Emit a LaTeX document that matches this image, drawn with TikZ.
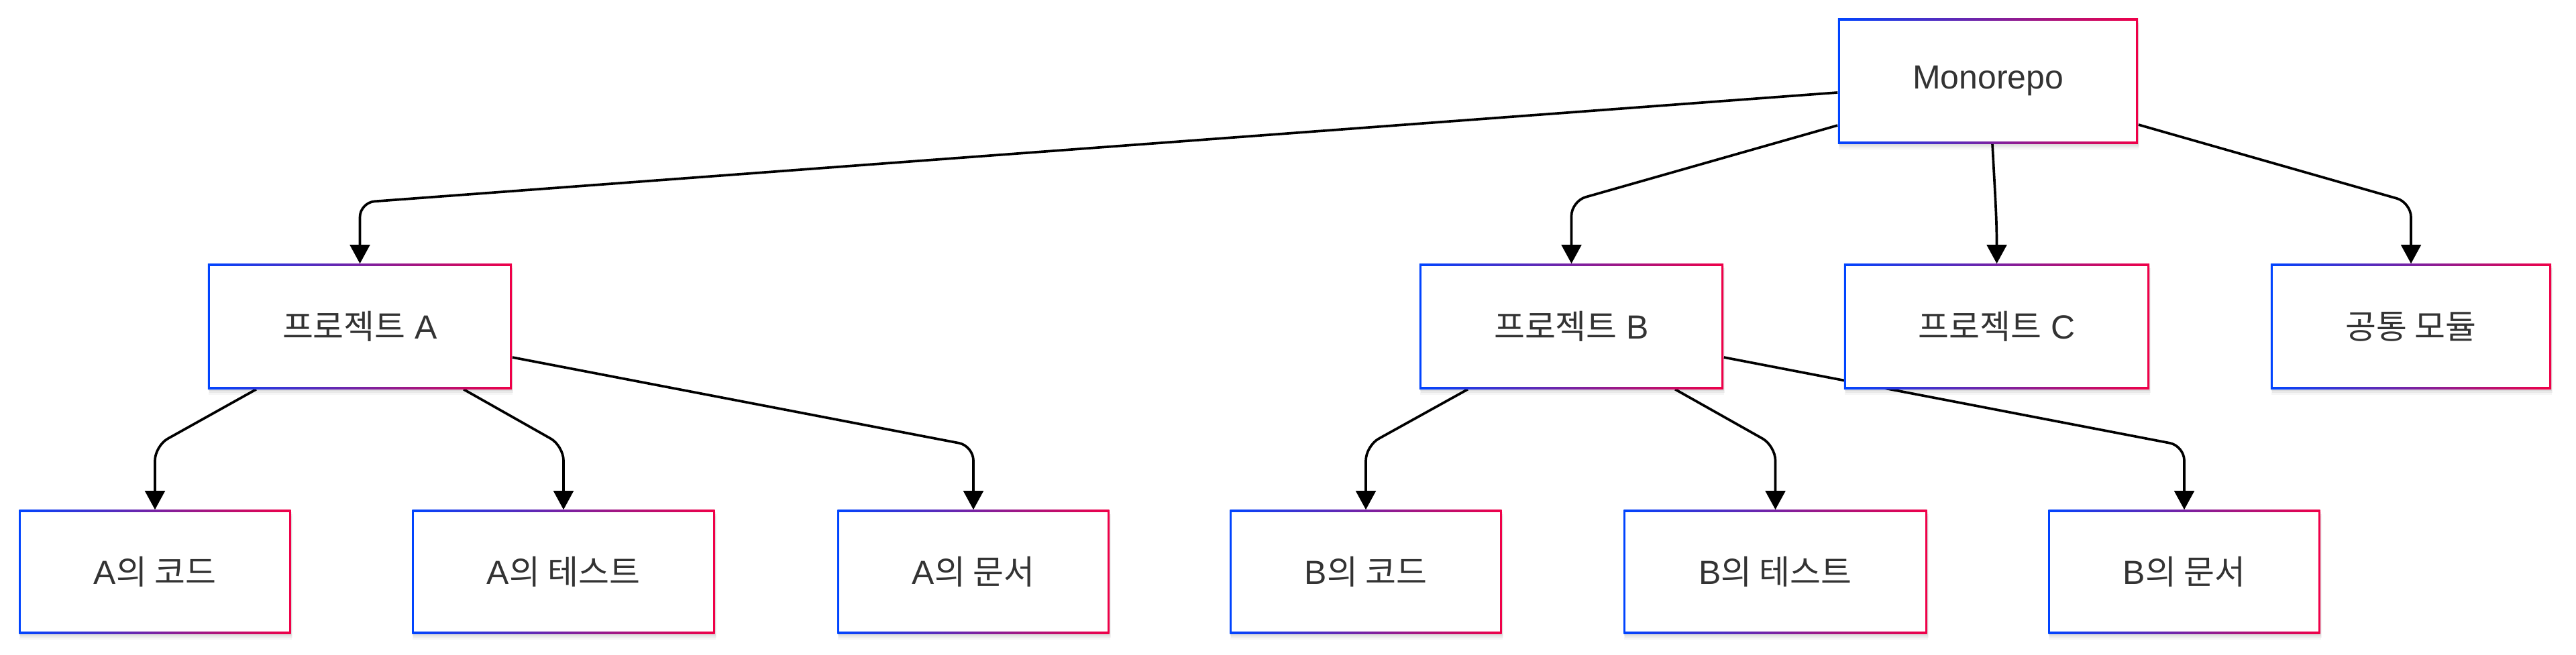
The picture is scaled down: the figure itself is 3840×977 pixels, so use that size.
\documentclass[tikz,border=0pt]{standalone}
\usepackage{fontspec}
\setmainfont{Liberation Sans}
\newfontfamily\kr{Noto Sans CJK KR}
\usetikzlibrary{arrows.meta,shadows}
\definecolor{bl}{RGB}{0,68,255}
\definecolor{rd}{RGB}{240,0,72}
\definecolor{txt}{RGB}{51,51,51}
\pgfdeclarelayer{bg}
\pgfsetlayers{bg,main}
\tikzset{
  gbox/.style 2 args={rectangle, minimum width=#1, minimum height=#2, inner sep=0pt,
    fill=white, text=txt, font=\fontsize{14.2pt}{17pt}\selectfont,
    general shadow={shadow xshift=0.01cm, shadow yshift=-0.09cm, fill=black, opacity=0.035},
    general shadow={shadow xshift=0.02cm, shadow yshift=-0.06cm, fill=black, opacity=0.05},
    general shadow={shadow xshift=0.01cm, shadow yshift=-0.03cm, fill=black, opacity=0.06},
    path picture={
      \shade[left color=bl, right color=rd]
        (path picture bounding box.south west) rectangle (path picture bounding box.north east);
      \fill[white]
        ([shift={(0.03cm,0.03cm)}]path picture bounding box.south west) rectangle
        ([shift={(-0.03cm,-0.03cm)}]path picture bounding box.north east);
    }},
  link/.style={draw=black, line width=1.05pt, rounded corners=0.22cm,
    -{Triangle[length=8pt,width=8.4pt]}},
}
\begin{document}
\begin{tikzpicture}[x=0.01cm, y=-0.01cm]
\begin{pgfonlayer}{bg}
\fill[white] (0,0) rectangle (3840,977);
\end{pgfonlayer}
\useasboundingbox (0,0) rectangle (3840,977);

% row 1
\node[gbox={4.47cm}{1.86cm}] (mono) at (2963.5,121) {Monorepo};
% row 2
\node[gbox={4.53cm}{1.86cm}] (pa) at (536.5,487) {{\kr 프로젝트} A};
\node[gbox={4.53cm}{1.86cm}] (pb) at (2342.5,487) {{\kr 프로젝트} B};
\node[gbox={4.55cm}{1.86cm}] (pc) at (2976.5,487) {{\kr 프로젝트} C};
\node[gbox={4.18cm}{1.86cm}] (cm) at (3594,487) {{\kr 공통 모듈}};
% row 3
\node[gbox={4.05cm}{1.84cm}] (ac) at (231,853) {A{\kr 의 코드}};
\node[gbox={4.51cm}{1.84cm}] (at) at (840,853) {A{\kr 의 테스트}};
\node[gbox={4.05cm}{1.84cm}] (ad) at (1451,853) {A{\kr 의 문서}};
\node[gbox={4.05cm}{1.84cm}] (bc) at (2036,853) {B{\kr 의 코드}};
\node[gbox={4.52cm}{1.84cm}] (bt) at (2646.5,853) {B{\kr 의 테스트}};
\node[gbox={4.05cm}{1.84cm}] (bd) at (3256,853) {B{\kr 의 문서}};

\begin{pgfonlayer}{bg}
\draw[link] ([yshift=-0.17cm]mono.west) -- (pa.north |- 0,302) -- (pa.north);
\draw[link] ([yshift=-0.66cm]mono.west) -- (pb.north |- 0,300) -- (pb.north);
\draw[link] ([xshift=0.065cm]mono.south) to[out=-87,in=90] (pc.north);
\draw[link] ([yshift=-0.65cm]mono.east) -- (cm.north |- 0,302) -- (cm.north);

\draw[link] ([xshift=-1.545cm]pa.south) -- (ac.north |- 0,665) -- (ac.north);
\draw[link] ([xshift=1.545cm]pa.south) -- (at.north |- 0,665) -- (at.north);
\draw[link] ([yshift=-0.46cm]pa.east) -- (ad.north |- 0,665) -- (ad.north);

\draw[link] ([xshift=-1.545cm]pb.south) -- (bc.north |- 0,665) -- (bc.north);
\draw[link] ([xshift=1.545cm]pb.south) -- (bt.north |- 0,665) -- (bt.north);
\draw[link] ([yshift=-0.46cm]pb.east) -- (bd.north |- 0,665) -- (bd.north);
\end{pgfonlayer}
\end{tikzpicture}
\end{document}
